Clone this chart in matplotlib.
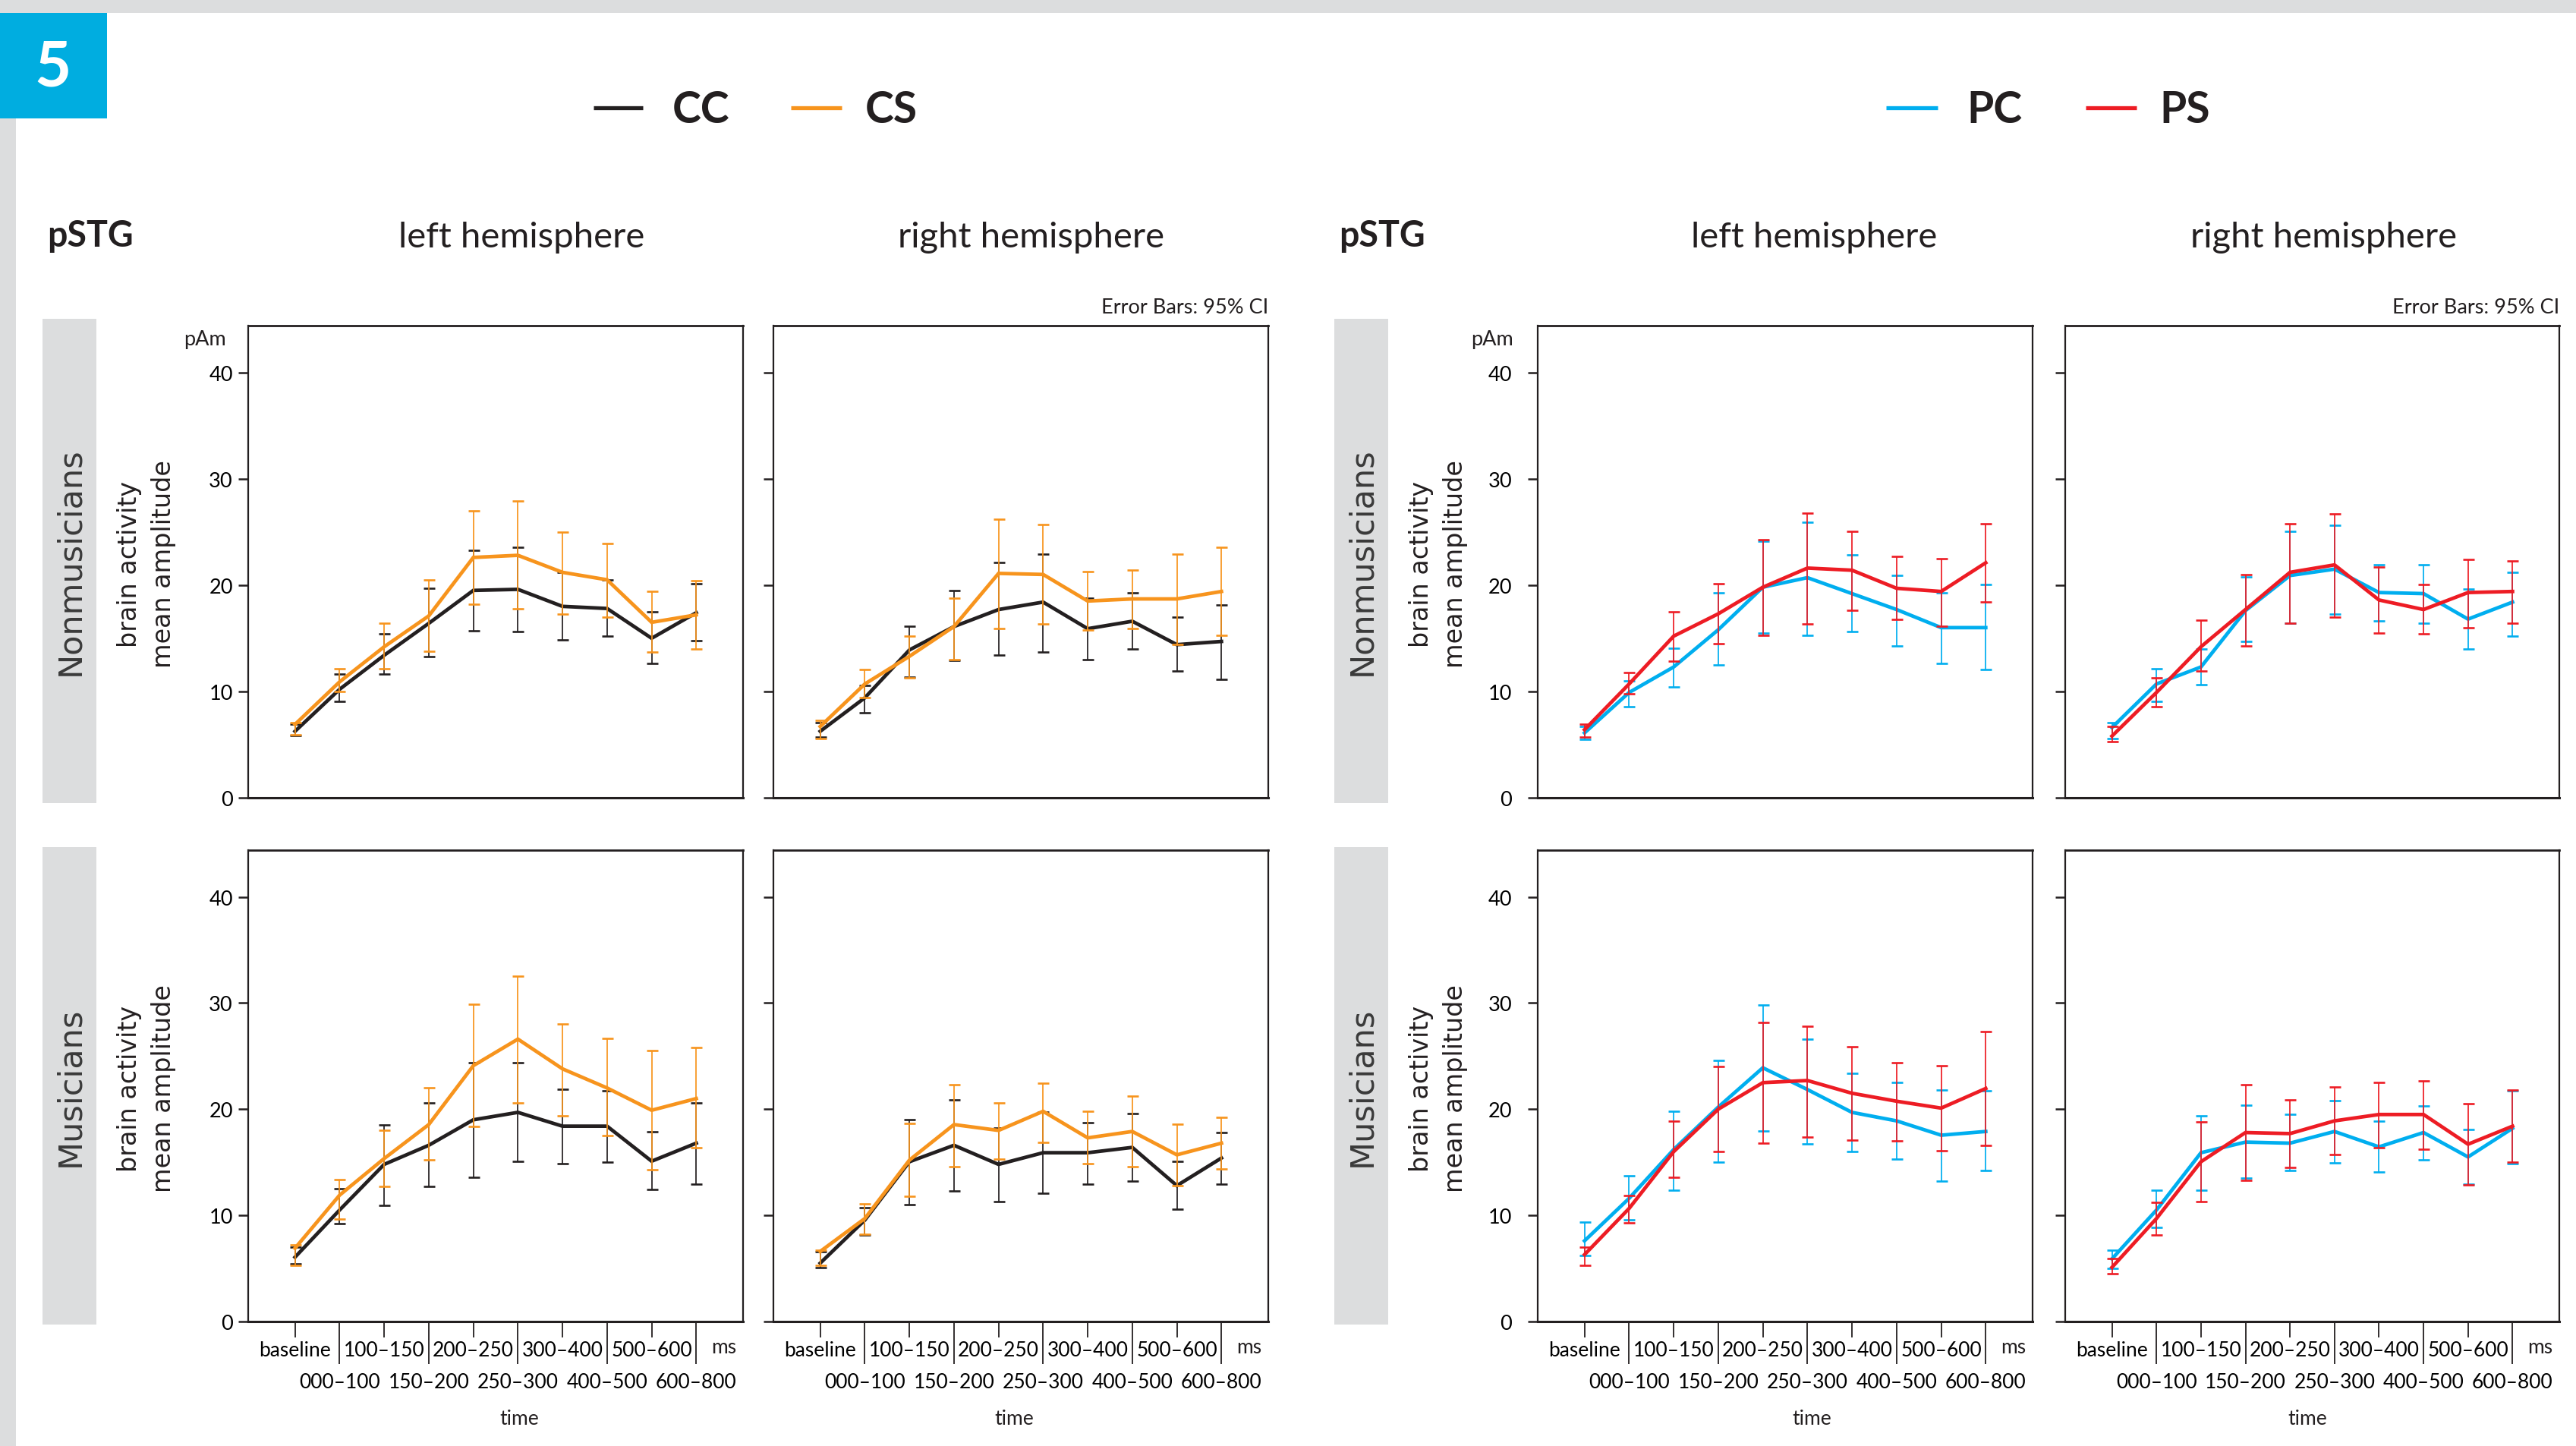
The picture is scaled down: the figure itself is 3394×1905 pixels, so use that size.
import numpy as np
import matplotlib
matplotlib.use('Agg')
import matplotlib.pyplot as plt
from matplotlib.lines import Line2D
from matplotlib.patches import Rectangle
from matplotlib import transforms

plt.rcParams['font.family'] = ['Lato', 'DejaVu Sans']

W, H = 3394, 1906

# ---------------- data ----------------
time_labels = ['baseline', '000–100', '100–150', '150–200', '200–250',
               '250–300', '300–400', '400–500', '500–600', '600–800']
yticks = [0, 10, 20, 30, 40]

# Nonmusicians, left hemisphere
nm_lh_CC = [6.25, 10.2, 13.4, 16.4, 19.5, 19.6, 18.0, 17.8, 15.0, 17.4]
nm_lh_CC_lo = [5.83, 9.05, 11.6, 13.3, 15.7, 15.65, 14.85, 15.2, 12.6, 14.75]
nm_lh_CC_hi = [6.95, 11.67, 15.4, 19.7, 23.3, 23.55, 21.2, 20.5, 17.5, 20.1]
nm_lh_CS = [6.9, 10.9, 14.2, 17.1, 22.6, 22.8, 21.2, 20.5, 16.5, 17.2]
nm_lh_CS_lo = [5.9, 10.0, 12.1, 13.8, 18.2, 17.8, 17.3, 17.0, 13.7, 14.0]
nm_lh_CS_hi = [7.1, 12.1, 16.4, 20.5, 27.0, 27.9, 25.0, 23.9, 19.4, 20.4]
nm_lh_PC = [6.1, 9.9, 12.3, 15.8, 19.8, 20.7, 19.2, 17.7, 16.0, 16.0]
nm_lh_PC_lo = [5.5, 8.6, 10.45, 12.5, 15.5, 15.3, 15.65, 14.3, 12.6, 12.05]
nm_lh_PC_hi = [6.7, 11.0, 14.05, 19.25, 24.1, 25.9, 22.85, 20.9, 19.3, 20.05]
nm_lh_PS = [6.4, 10.7, 15.2, 17.3, 19.8, 21.6, 21.4, 19.7, 19.4, 22.1]
nm_lh_PS_lo = [5.7, 9.75, 12.85, 14.5, 15.3, 16.35, 17.6, 16.8, 16.1, 18.4]
nm_lh_PS_hi = [6.95, 11.75, 17.5, 20.1, 24.25, 26.8, 25.05, 22.7, 22.5, 25.8]

# Nonmusicians, right hemisphere
nm_rh_CC = [6.25, 9.4, 13.9, 16.1, 17.7, 18.4, 15.9, 16.6, 14.4, 14.7]
nm_rh_CC_lo = [5.7, 8.0, 11.35, 12.9, 13.4, 13.7, 13.0, 14.0, 11.9, 11.15]
nm_rh_CC_hi = [7.1, 10.6, 16.1, 19.5, 22.1, 22.9, 18.8, 19.3, 17.0, 18.1]
nm_rh_CS = [6.7, 10.7, 13.3, 16.1, 21.1, 21.0, 18.5, 18.7, 18.7, 19.4]
nm_rh_CS_lo = [5.6, 9.45, 11.3, 13.0, 15.9, 16.35, 15.8, 15.9, 14.4, 15.3]
nm_rh_CS_hi = [7.3, 12.05, 15.2, 18.8, 26.2, 25.7, 21.3, 21.45, 22.9, 23.55]
nm_rh_PC = [6.6, 10.7, 12.3, 17.6, 20.9, 21.5, 19.3, 19.2, 16.8, 18.4]
nm_rh_PC_lo = [5.6, 9.1, 10.65, 14.7, 16.4, 17.3, 16.6, 16.4, 14.0, 15.2]
nm_rh_PC_hi = [7.05, 12.1, 14.0, 20.8, 25.05, 25.6, 21.9, 21.95, 19.6, 21.2]
nm_rh_PS = [5.8, 9.9, 14.2, 17.7, 21.2, 21.9, 18.6, 17.7, 19.3, 19.4]
nm_rh_PS_lo = [5.3, 8.6, 11.9, 14.3, 16.4, 17.0, 15.5, 15.4, 16.0, 16.4]
nm_rh_PS_hi = [6.7, 11.3, 16.7, 21.0, 25.8, 26.7, 21.7, 20.05, 22.4, 22.25]

# Musicians, left hemisphere
m_lh_CC = [6.06, 10.5, 14.8, 16.6, 19.0, 19.7, 18.4, 18.4, 15.1, 16.8]
m_lh_CC_lo = [5.4, 9.25, 10.95, 12.7, 13.6, 15.1, 14.9, 15.0, 12.45, 12.95]
m_lh_CC_hi = [6.98, 12.5, 18.55, 20.6, 24.4, 24.35, 21.9, 21.7, 17.9, 20.6]
m_lh_CS = [6.9, 11.9, 15.35, 18.55, 24.1, 26.6, 23.8, 22.0, 19.9, 21.0]
m_lh_CS_lo = [5.3, 9.65, 12.7, 15.2, 18.4, 20.6, 19.4, 17.5, 14.3, 16.4]
m_lh_CS_hi = [7.2, 13.4, 18.05, 22.0, 29.9, 32.5, 28.0, 26.7, 25.5, 25.8]
m_lh_PC = [7.6, 11.6, 16.2, 20.2, 23.9, 21.85, 19.7, 18.9, 17.55, 17.9]
m_lh_PC_lo = [6.25, 9.55, 12.4, 15.05, 17.95, 16.7, 16.0, 15.3, 13.25, 14.25]
m_lh_PC_hi = [9.35, 13.7, 19.8, 24.6, 29.8, 26.6, 23.4, 22.5, 21.8, 21.7]
m_lh_PS = [6.3, 10.65, 16.0, 20.0, 22.5, 22.7, 21.5, 20.75, 20.1, 21.95]
m_lh_PS_lo = [5.3, 9.3, 13.6, 16.0, 16.8, 17.4, 17.1, 17.0, 16.1, 16.6]
m_lh_PS_hi = [7.0, 11.9, 18.85, 24.05, 28.2, 27.8, 25.9, 24.4, 24.1, 27.3]

# Musicians, right hemisphere
m_rh_CC = [5.5, 9.55, 15.05, 16.6, 14.8, 15.9, 15.9, 16.4, 12.8, 15.4]
m_rh_CC_lo = [5.1, 8.15, 11.0, 12.3, 11.3, 12.05, 12.95, 13.2, 10.55, 12.95]
m_rh_CC_hi = [6.6, 10.7, 19.0, 20.9, 18.2, 19.7, 18.7, 19.6, 15.1, 17.8]
m_rh_CS = [6.6, 9.7, 15.2, 18.55, 18.0, 19.8, 17.3, 17.9, 15.7, 16.8]
m_rh_CS_lo = [5.3, 8.25, 11.8, 14.6, 15.3, 16.9, 14.9, 14.6, 12.8, 14.4]
m_rh_CS_hi = [6.7, 11.1, 18.65, 22.3, 20.6, 22.45, 19.8, 21.2, 18.6, 19.2]
m_rh_PC = [5.9, 10.5, 15.9, 16.9, 16.8, 17.9, 16.45, 17.8, 15.5, 18.2]
m_rh_PC_lo = [5.0, 8.9, 12.4, 13.5, 14.2, 14.95, 14.1, 15.2, 12.95, 14.9]
m_rh_PC_hi = [6.7, 12.4, 19.35, 20.35, 19.5, 20.8, 18.9, 20.3, 18.1, 21.7]
m_rh_PS = [5.1, 9.7, 15.05, 17.8, 17.7, 18.9, 19.5, 19.5, 16.7, 18.4]
m_rh_PS_lo = [4.5, 8.15, 11.3, 13.3, 14.5, 15.7, 16.4, 16.2, 12.9, 15.05]
m_rh_PS_hi = [5.9, 11.2, 18.8, 22.3, 20.9, 22.1, 22.5, 22.7, 20.55, 21.8]

# ---------------- styles ----------------
C_CC = '#231F20'
C_CS = '#F7941D'
C_PC = '#00AEEF'
C_PS = '#ED1C24'
GRAY = '#DCDDDE'
BADGE = '#00ADE0'

fig = plt.figure(figsize=(W / 100, H / 100), dpi=100)
fig.patch.set_facecolor('white')


def fx(x):
    return x / W


def fy(y):
    return 1 - y / H


def frect(x0, y0, x1, y1, color, z=0):
    fig.add_artist(Rectangle((fx(x0), fy(y1)), (x1 - x0) / W, (y1 - y0) / H,
                             transform=fig.transFigure, color=color, zorder=z, lw=0))


# decorations
frect(0, 0, W, 18, GRAY)
frect(0, 0, 21, H, GRAY)
frect(0, 18, 141, 157, BADGE, z=1)
fig.text(fx(70), fy(90), '5', color='white', fontsize=60, fontweight='bold',
         ha='center', va='center', zorder=2)

# legends
for (x0, x1, tx, lab, col) in [(782, 847, 886, 'CC', C_CC), (1042, 1109, 1140, 'CS', C_CS),
                               (2485, 2553, 2591, 'PC', C_PC), (2748, 2815, 2845, 'PS', C_PS)]:
    fig.add_artist(Line2D([fx(x0), fx(x1)], [fy(143), fy(143)], transform=fig.transFigure,
                          color=col, lw=3.8, solid_capstyle='butt'))
    fig.text(fx(tx), fy(162), lab, fontsize=41, fontweight='bold', color='#231F20',
             ha='left', va='baseline')

# headers
for x in (62, 1764):
    fig.text(fx(x), fy(325), 'pSTG', fontsize=33.5, fontweight='bold', color='#231F20',
             ha='left', va='baseline')
for x, t in [(687, 'left hemisphere'), (1359, 'right hemisphere'),
             (2390, 'left hemisphere'), (3062, 'right hemisphere')]:
    fig.text(fx(x), fy(326), t, fontsize=34, color='#231F20', ha='center', va='baseline')
for x in (1671, 3372):
    fig.text(fx(x), fy(413), 'Error Bars: 95% CI', fontsize=19.5, color='#231F20',
             ha='right', va='baseline')

# row label boxes
rows_y = [(430, 1052), (1121, 1742)]
box_y = [(421, 1059), (1117, 1746)]
row_names = ['Nonmusicians', 'Musicians']
for (bx0, bx1, lx) in [(56, 127, 193), (1758, 1829, 1895)]:
    for (by0, by1), name in zip(box_y, row_names):
        frect(bx0, by0, bx1, by1, GRAY)
        cy = (by0 + by1) / 2
        fig.text(fx((bx0 + bx1) / 2 + 1), fy(cy), name, rotation=90, fontsize=31,
                 family='DejaVu Sans', color='#3A3A3A', ha='center', va='center')
        fig.text(fx(lx), fy(cy + 3), 'brain activity\nmean amplitude', rotation=90,
                 fontsize=24, family='DejaVu Sans', color='#231F20', ha='center',
                 va='center', multialignment='center', linespacing=1.45)

cols_x = [(327, 979), (1019, 1671), (2026, 2678), (2721, 3372)]
time_x = [684, 1336, 2387, 3040]

panel_data = {
    (0, 0): [(nm_lh_CC, nm_lh_CC_lo, nm_lh_CC_hi, C_CC), (nm_lh_CS, nm_lh_CS_lo, nm_lh_CS_hi, C_CS)],
    (0, 1): [(nm_rh_CC, nm_rh_CC_lo, nm_rh_CC_hi, C_CC), (nm_rh_CS, nm_rh_CS_lo, nm_rh_CS_hi, C_CS)],
    (0, 2): [(nm_lh_PC, nm_lh_PC_lo, nm_lh_PC_hi, C_PC), (nm_lh_PS, nm_lh_PS_lo, nm_lh_PS_hi, C_PS)],
    (0, 3): [(nm_rh_PC, nm_rh_PC_lo, nm_rh_PC_hi, C_PC), (nm_rh_PS, nm_rh_PS_lo, nm_rh_PS_hi, C_PS)],
    (1, 0): [(m_lh_CC, m_lh_CC_lo, m_lh_CC_hi, C_CC), (m_lh_CS, m_lh_CS_lo, m_lh_CS_hi, C_CS)],
    (1, 1): [(m_rh_CC, m_rh_CC_lo, m_rh_CC_hi, C_CC), (m_rh_CS, m_rh_CS_lo, m_rh_CS_hi, C_CS)],
    (1, 2): [(m_lh_PC, m_lh_PC_lo, m_lh_PC_hi, C_PC), (m_lh_PS, m_lh_PS_lo, m_lh_PS_hi, C_PS)],
    (1, 3): [(m_rh_PC, m_rh_PC_lo, m_rh_PC_hi, C_PC), (m_rh_PS, m_rh_PS_lo, m_rh_PS_hi, C_PS)],
}

x = np.arange(len(time_labels))
for (r, c), series in panel_data.items():
    x0, x1 = cols_x[c]
    y0, y1 = rows_y[r]
    ax = fig.add_axes([fx(x0), fy(y1), (x1 - x0) / W, (y1 - y0) / H])
    for k, (m, lo, hi, col) in enumerate(series):
        m = np.array(m)
        err = np.vstack([np.clip(m - np.array(lo), 0, None), np.clip(np.array(hi) - m, 0, None)])
        ax.errorbar(x, m, yerr=err, fmt='none', ecolor=col, elinewidth=1.25,
                    capsize=5.4, capthick=1.9, zorder=2 + 2 * k)
        ax.plot(x, m, color=col, lw=3.4, zorder=3 + 2 * k, solid_joinstyle='miter')
    ax.set_xlim(-1.05, 10.05)
    ax.set_ylim(0, 44.4)
    ax.set_yticks(yticks)
    for s in ax.spines.values():
        s.set_linewidth(1.6)
        s.set_color('#231F20')
    ax.spines['bottom'].set_linewidth(2.2)
    ax.spines['top'].set_linewidth(2.0)
    left_col = c in (0, 2)
    ax.tick_params(axis='y', direction='out', length=9.5, width=1.8, color='#231F20',
                   labelsize=19.5, pad=5 if c == 0 else 15, labelleft=left_col)
    if r == 0:
        ax.tick_params(axis='x', bottom=False, labelbottom=False)
    else:
        ax.set_xticks(x[0::2])
        ax.set_xticklabels(time_labels[0::2])
        ax.set_xticks(x[1::2], minor=True)
        ax.set_xticklabels(time_labels[1::2], minor=True)
        ax.tick_params(axis='x', which='major', direction='out', length=15, width=1.3,
                       labelsize=19, pad=3, color='#231F20')
        ax.tick_params(axis='x', which='minor', direction='out', length=40, width=1.3,
                       labelsize=19, pad=8, color='#231F20')
        tr = transforms.blended_transform_factory(ax.transData, fig.transFigure)
        ax.text(9.62, fy(1776), 'ms', transform=tr, fontsize=19, ha='center', va='center',
                color='#231F20')
        fig.text(fx(time_x[c]), fy(1870), 'time', fontsize=19, ha='center', va='center',
                 color='#231F20')
    if r == 0 and left_col:
        fig.text(fx(298 if c == 0 else 1994), fy(448), 'pAm', fontsize=19.5, ha='right',
                 va='center', color='#231F20')

fig.savefig('out.png', dpi=100, facecolor='white')
